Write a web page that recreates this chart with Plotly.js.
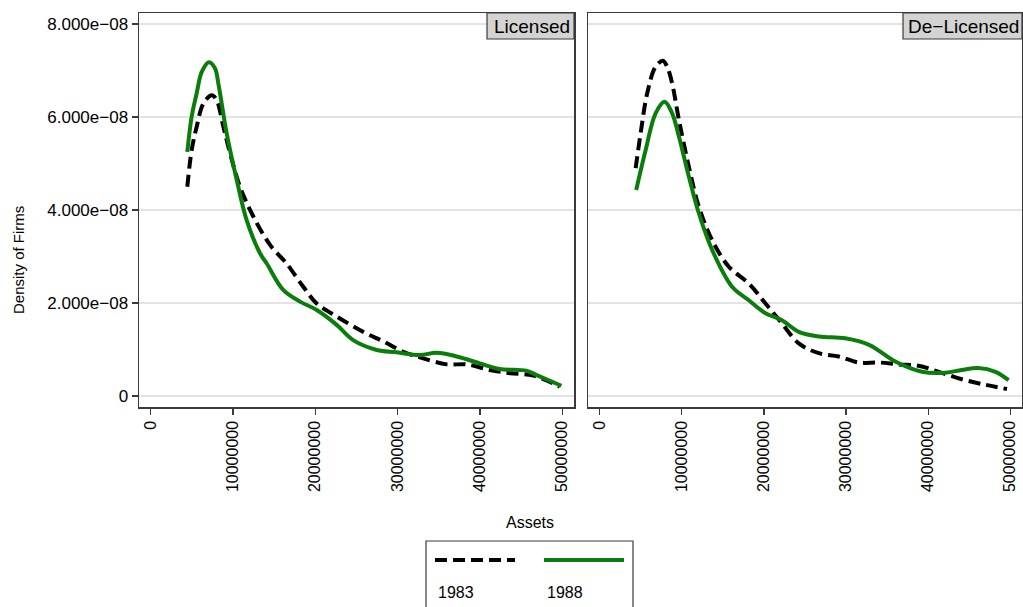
<!DOCTYPE html>
<html>
<head>
<meta charset="utf-8">
<script src="https://cdn.plot.ly/plotly-3.0.1.min.js"></script>
<style>html,body{margin:0;padding:0;background:#fff;}#chart{width:1023px;height:607px;}</style>
</head>
<body>
<div id="chart"></div>
<script>
// ---- Data ----
const panels = ["Licensed", "De\u2212Licensed"];
const seriesNames = ["1983", "1988"];

// Licensed, 1983
const lic1983X = [4450000, 4980000, 5590000, 6400000, 7410000, 8000000, 8830000, 9640000, 10850000, 12470000, 14500000, 16500000, 18540000, 20170000, 22600000, 25800000, 28300000, 30700000, 33100000, 35970000, 38400000, 41200000, 43660000, 46500000, 49700000];
const lic1983Y = [4.50e-8, 5.29e-8, 5.79e-8, 6.29e-8, 6.47e-8, 6.37e-8, 5.79e-8, 5.22e-8, 4.50e-8, 3.86e-8, 3.25e-8, 2.85e-8, 2.35e-8, 1.99e-8, 1.71e-8, 1.38e-8, 1.17e-8, 0.95e-8, 0.81e-8, 0.68e-8, 0.68e-8, 0.56e-8, 0.49e-8, 0.44e-8, 0.20e-8];

// Licensed, 1988
const lic1988X = [4450000, 4980000, 5590000, 6200000, 7080000, 7810000, 8220000, 9230000, 10450000, 11660000, 13280000, 14100000, 16100000, 18140000, 20170000, 22600000, 24600000, 27460000, 29900000, 32700000, 34750000, 37200000, 40000000, 42400000, 45700000, 46900000, 49900000];
const lic1988Y = [5.25e-8, 6.01e-8, 6.51e-8, 6.97e-8, 7.18e-8, 7.05e-8, 6.72e-8, 5.65e-8, 4.65e-8, 3.78e-8, 3.07e-8, 2.85e-8, 2.28e-8, 2.03e-8, 1.85e-8, 1.53e-8, 1.20e-8, 0.99e-8, 0.94e-8, 0.88e-8, 0.93e-8, 0.85e-8, 0.70e-8, 0.58e-8, 0.54e-8, 0.45e-8, 0.22e-8];

// De-Licensed, 1983
const del1983X = [4380000, 4990000, 5790000, 6810000, 7700000, 8220000, 8830000, 9650000, 10860000, 12080000, 13700000, 15730000, 18160000, 20200000, 22200000, 24250000, 26700000, 29100000, 31500000, 34000000, 36400000, 38800000, 41300000, 44100000, 47000000, 49600000];
const del1983Y = [4.90e-8, 5.65e-8, 6.51e-8, 7.08e-8, 7.21e-8, 7.08e-8, 6.72e-8, 5.94e-8, 4.93e-8, 4.07e-8, 3.35e-8, 2.78e-8, 2.42e-8, 1.99e-8, 1.56e-8, 1.13e-8, 0.92e-8, 0.85e-8, 0.72e-8, 0.72e-8, 0.68e-8, 0.65e-8, 0.52e-8, 0.36e-8, 0.24e-8, 0.15e-8];

// De-Licensed, 1988
const del1988X = [4450000, 5600000, 6810000, 7900000, 8830000, 9650000, 10860000, 12080000, 13700000, 16130000, 18160000, 20200000, 22200000, 24250000, 26700000, 29900000, 32800000, 36000000, 39250000, 42100000, 44100000, 46100000, 48200000, 49800000];
const del1988Y = [4.43e-8, 5.29e-8, 6.08e-8, 6.33e-8, 6.08e-8, 5.58e-8, 4.72e-8, 3.93e-8, 3.14e-8, 2.35e-8, 2.06e-8, 1.78e-8, 1.63e-8, 1.38e-8, 1.28e-8, 1.24e-8, 1.10e-8, 0.74e-8, 0.52e-8, 0.50e-8, 0.56e-8, 0.60e-8, 0.52e-8, 0.34e-8];

const xTickVals = [0, 10000000, 20000000, 30000000, 40000000, 50000000];
const xTickText = ["0", "10000000", "20000000", "30000000", "40000000", "50000000"];
const yTickVals = [0, 2e-8, 4e-8, 6e-8, 8e-8];
const yTickText = ["0", "2.000e\u221208", "4.000e\u221208", "6.000e\u221208", "8.000e\u221208"];

// ---- Layout helpers ----
const W = 1023, H = 607;
const px = v => v / W;
const py = v => 1 - v / H;
const FONT = "Liberation Sans, Arial, sans-serif";
const frameColor = "#3a3a3a";
const gridColor = "#e3e3e3";
const green = "#0b7d0b";
const dash = "12px,6px";

function line(x, y, color, dashed, xa, ya) {
  return {
    x: x, y: y, xaxis: xa, yaxis: ya, type: "scatter", mode: "lines",
    line: {color: color, width: 4, dash: dashed ? dash : "solid", shape: "spline", smoothing: 1},
    showlegend: false, hoverinfo: "skip"
  };
}

const traces = [
  line(lic1983X, lic1983Y, "#000000", true, "x", "y"),
  line(lic1988X, lic1988Y, green, false, "x", "y"),
  line(del1983X, del1983Y, "#000000", true, "x2", "y2"),
  line(del1988X, del1988Y, green, false, "x2", "y2")
];

const xRange = [-1420000, 51430000];
const yRange = [-2.37e-9, 8.237e-8];
const yDomain = [py(407), py(13)];

function xaxis(domain, anchor) {
  return {
    domain: domain, anchor: anchor, range: xRange,
    tickvals: xTickVals, ticktext: xTickText, tickangle: -90,
    ticks: "outside", ticklen: 6, tickwidth: 1.2, tickcolor: frameColor,
    showline: true, linecolor: frameColor, linewidth: 1.5, mirror: true,
    showgrid: false, zeroline: false,
    tickfont: {family: FONT, size: 16, color: "#000"}
  };
}
function yaxis(anchor, showLabels) {
  return {
    domain: yDomain, anchor: anchor, range: yRange,
    tickvals: yTickVals, ticktext: yTickText, showticklabels: showLabels,
    ticks: showLabels ? "outside" : "", ticklen: 6, tickwidth: 1.2, tickcolor: frameColor,
    showline: true, linecolor: frameColor, linewidth: 1.5, mirror: true,
    showgrid: true, gridcolor: gridColor, gridwidth: 1.5, zeroline: false,
    tickfont: {family: FONT, size: 17, color: "#000"}
  };
}

const shapes = [
  // strip boxes
  {type: "rect", xref: "paper", yref: "paper", x0: px(487), x1: px(574), y0: py(39), y1: py(13),
   fillcolor: "#d3d3d3", line: {color: frameColor, width: 1.2}},
  {type: "rect", xref: "paper", yref: "paper", x0: px(903), x1: px(1022), y0: py(39), y1: py(13),
   fillcolor: "#d3d3d3", line: {color: frameColor, width: 1.2}},
  // legend box
  {type: "rect", xref: "paper", yref: "paper", x0: px(426), x1: px(633), y0: py(640), y1: py(541),
   fillcolor: "rgba(0,0,0,0)", line: {color: frameColor, width: 1.2}},
  // legend samples
  {type: "line", xref: "paper", yref: "paper", x0: px(435), x1: px(515), y0: py(560), y1: py(560),
   line: {color: "#000000", width: 4, dash: dash}},
  {type: "line", xref: "paper", yref: "paper", x0: px(544), x1: px(624), y0: py(560), y1: py(560),
   line: {color: green, width: 4}}
];

const annotations = [
  {text: panels[0], xref: "paper", yref: "paper", x: px(572), y: py(26), xanchor: "right", yanchor: "middle",
   showarrow: false, font: {family: FONT, size: 19, color: "#000"}},
  {text: panels[1], xref: "paper", yref: "paper", x: px(1021), y: py(26), xanchor: "right", yanchor: "middle",
   showarrow: false, font: {family: FONT, size: 19, color: "#000"}},
  {text: "Assets", xref: "paper", yref: "paper", x: px(530), y: py(522), xanchor: "center", yanchor: "middle",
   showarrow: false, font: {family: FONT, size: 16, color: "#000"}},
  {text: "Density of Firms", xref: "paper", yref: "paper", x: px(18), y: py(260), xanchor: "center", yanchor: "middle",
   textangle: -90, showarrow: false, font: {family: FONT, size: 15, color: "#000"}},
  {text: seriesNames[0], xref: "paper", yref: "paper", x: px(436), y: py(592), xanchor: "left", yanchor: "middle",
   showarrow: false, font: {family: FONT, size: 16, color: "#000"}},
  {text: seriesNames[1], xref: "paper", yref: "paper", x: px(545), y: py(592), xanchor: "left", yanchor: "middle",
   showarrow: false, font: {family: FONT, size: 16, color: "#000"}}
];

const layout = {
  width: W, height: H, autosize: false,
  margin: {l: 0, r: 0, t: 0, b: 0, pad: 0},
  paper_bgcolor: "#ffffff", plot_bgcolor: "#ffffff",
  showlegend: false,
  xaxis: xaxis([px(139), px(574)], "y"),
  yaxis: yaxis("x", true),
  xaxis2: xaxis([px(588), px(1022)], "y2"),
  yaxis2: yaxis("x2", false),
  shapes: shapes,
  annotations: annotations,
  font: {family: FONT, color: "#000"}
};

Plotly.newPlot("chart", traces, layout, {displayModeBar: false, staticPlot: true});
</script>
</body>
</html>
